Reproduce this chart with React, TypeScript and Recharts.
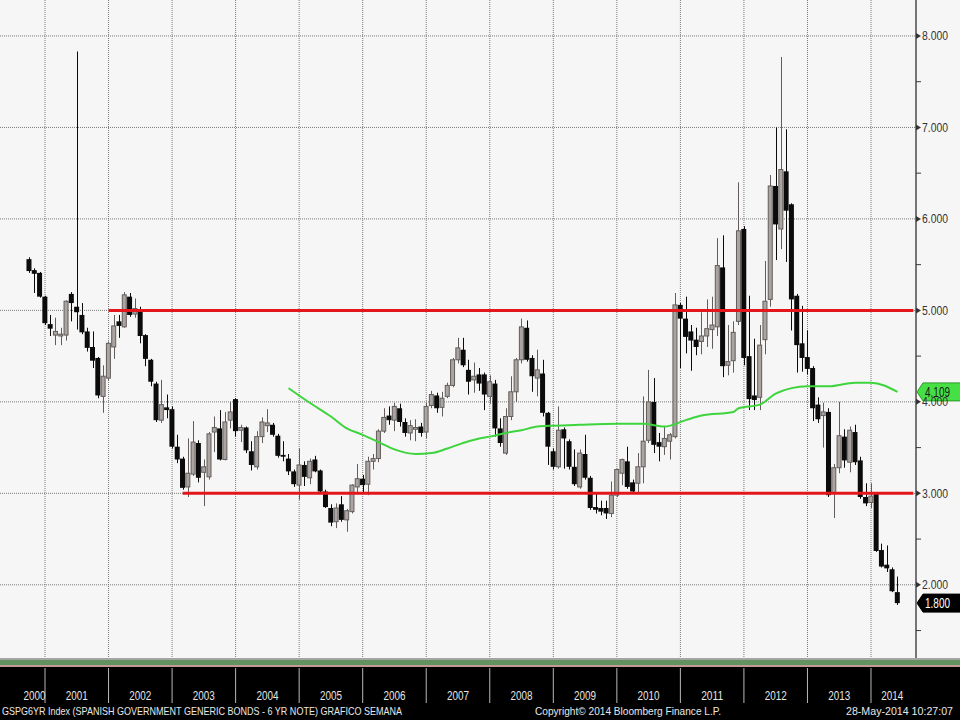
import { ComposedChart, Bar, Line, XAxis, YAxis, CartesianGrid, ReferenceLine } from 'recharts'

// monthly candles Sep 2000 .. May 2014, one line per year
const FIRST_CANDLE = '2000-09'

const OPEN = [
  5.56, 5.44, 5.41, 5.15,
  4.85, 4.73, 4.72, 4.73, 5.18, 5.04, 4.95, 4.77, 4.6, 4.48, 4.06, 4.26,
  4.6, 4.88, 4.82, 5.15, 4.96, 5.01, 4.73, 4.46, 4.2, 3.8, 3.94, 3.92,
  3.51, 3.38, 3.07, 3.21, 3.55, 3.23, 3.18, 3.67, 3.71, 3.37, 3.8, 4.03,
  3.69, 3.72, 3.46, 3.29, 3.62, 3.74, 3.75, 3.63, 3.42, 3.38, 3.24, 3.09,
  3.31, 3.17, 3.37, 3.25, 3.02, 2.84, 2.69, 2.88, 2.71, 2.8, 3.07, 3.16,
  3.1, 3.35, 3.38, 3.68, 3.85, 3.8, 3.93, 3.78, 3.66, 3.7, 3.73, 3.67,
  3.96, 4.07, 3.94, 4.06, 4.18, 4.46, 4.57, 4.35, 4.24, 4.3, 4.3, 4.06,
  4.2, 3.71, 3.44, 3.84, 4.11, 4.46, 4.81, 4.48, 4.26, 4.31, 3.88, 3.46,
  3.29, 3.7, 3.57, 3.29, 3.07, 3.43, 3.17, 2.85, 2.84, 2.84, 2.78, 2.98,
  3.22, 3.35, 3.12, 3.11, 3.29, 3.58, 4.0, 3.56, 3.51, 3.57, 3.62, 5.06,
  4.91, 4.77, 4.68, 4.66, 4.72, 4.79, 4.82, 5.47, 4.4, 4.45, 4.88, 5.89,
  4.5, 4.07, 4.05, 4.68, 5.12, 6.36, 5.89, 6.52, 6.16, 5.16, 4.64, 4.49,
  4.37, 3.97, 3.85, 3.89, 3.0, 3.28, 3.62, 3.34, 3.67, 3.36, 2.96, 2.9,
  3.0, 2.38, 2.22, 2.17, 1.92,
]

const HIGH = [
  5.58, 5.46, 5.42, 5.16,
  4.95, 4.92, 4.81, 5.11, 5.2, 7.83, 5.08, 4.81, 4.77, 4.49, 4.4, 4.66,
  4.95, 4.95, 5.2, 5.19, 5.13, 5.04, 4.74, 4.47, 4.22, 4.24, 4.08, 3.95,
  3.64, 3.4, 3.6, 3.79, 3.58, 3.37, 3.67, 3.84, 3.91, 3.89, 4.0, 4.04,
  3.75, 3.73, 3.57, 3.68, 3.83, 3.92, 3.77, 3.65, 3.57, 3.43, 3.26, 3.49,
  3.35, 3.38, 3.41, 3.26, 3.04, 2.88, 2.89, 2.97, 2.83, 3.1, 3.32, 3.2,
  3.4, 3.43, 3.7, 3.93, 3.95, 3.99, 3.98, 3.82, 3.8, 3.81, 3.77, 3.99,
  4.12, 4.1, 4.11, 4.21, 4.48, 4.7, 4.7, 4.46, 4.43, 4.37, 4.32, 4.29,
  4.24, 3.82, 3.93, 4.28, 4.48, 4.91, 4.89, 4.51, 4.57, 4.46, 3.89, 3.49,
  3.95, 3.72, 3.59, 3.48, 3.48, 3.64, 3.19, 3.0, 2.92, 2.92, 3.13, 3.27,
  3.38, 3.51, 3.15, 3.44, 4.06, 4.35, 4.26, 3.66, 3.73, 3.66, 5.19, 5.08,
  5.15, 4.84, 4.81, 4.98, 5.12, 5.15, 5.79, 5.82, 4.84, 4.88, 6.4, 5.92,
  5.16, 4.69, 4.84, 5.54, 6.48, 7.0, 7.77, 6.98, 6.17, 5.18, 5.05, 4.78,
  4.39, 4.05, 3.99, 3.93, 3.32, 4.0, 3.7, 3.73, 3.75, 3.4, 3.11, 3.11,
  3.01, 2.45, 2.43, 2.19, 2.09,
]

const LOW = [
  5.41, 5.19, 5.14, 4.84,
  4.72, 4.62, 4.62, 4.67, 4.88, 4.79, 4.74, 4.55, 4.37, 4.04, 3.88, 4.23,
  4.47, 4.7, 4.81, 4.93, 4.92, 4.64, 4.39, 4.17, 3.78, 3.77, 3.82, 3.49,
  3.33, 3.04, 2.96, 3.19, 3.12, 2.86, 3.15, 3.45, 3.36, 3.36, 3.71, 3.62,
  3.56, 3.44, 3.25, 3.26, 3.55, 3.67, 3.62, 3.39, 3.35, 3.2, 3.07, 2.93,
  3.08, 3.1, 3.23, 3.0, 2.84, 2.64, 2.62, 2.69, 2.58, 2.78, 2.99, 3.0,
  2.98, 3.26, 3.34, 3.66, 3.75, 3.68, 3.73, 3.62, 3.58, 3.57, 3.62, 3.6,
  3.93, 3.88, 3.84, 4.04, 4.16, 4.42, 4.38, 4.08, 4.1, 4.12, 3.91, 3.98,
  3.62, 3.51, 3.42, 3.8, 4.0, 4.42, 4.44, 4.11, 4.06, 3.84, 3.31, 3.26,
  3.27, 3.27, 3.26, 3.08, 3.05, 3.15, 2.82, 2.78, 2.76, 2.72, 2.74, 2.96,
  3.09, 3.05, 3.0, 3.0, 3.11, 3.55, 3.44, 3.35, 3.42, 3.37, 3.6, 4.37,
  4.53, 4.34, 4.51, 4.52, 4.6, 4.58, 4.72, 4.27, 4.29, 4.32, 4.84, 4.4,
  3.91, 3.91, 3.91, 4.52, 5.04, 5.55, 5.67, 5.53, 4.78, 4.32, 4.33, 4.3,
  3.79, 3.77, 3.5, 2.96, 2.73, 3.22, 3.28, 3.23, 3.31, 2.94, 2.86, 2.84,
  2.36, 2.19, 2.14, 1.92, 1.78,
]

const CLOSE = [
  5.43, 5.4, 5.15, 4.86,
  4.8, 4.77, 4.74, 5.1, 5.08, 4.98, 4.76, 4.59, 4.45, 4.07, 4.28, 4.64,
  4.83, 4.83, 5.17, 4.95, 5.02, 4.72, 4.47, 4.22, 3.8, 3.97, 3.91, 3.51,
  3.37, 3.06, 3.22, 3.56, 3.17, 3.29, 3.65, 3.72, 3.37, 3.78, 3.89, 3.68,
  3.72, 3.47, 3.31, 3.62, 3.78, 3.77, 3.64, 3.41, 3.4, 3.24, 3.1, 3.31,
  3.18, 3.35, 3.24, 3.02, 2.85, 2.68, 2.84, 2.71, 2.81, 3.09, 3.16, 3.09,
  3.35, 3.38, 3.68, 3.83, 3.8, 3.95, 3.78, 3.66, 3.74, 3.72, 3.66, 3.95,
  4.08, 3.93, 4.04, 4.18, 4.46, 4.59, 4.4, 4.22, 4.28, 4.2, 4.08, 4.22,
  3.71, 3.55, 3.84, 4.11, 4.46, 4.82, 4.46, 4.28, 4.35, 3.88, 3.51, 3.29,
  3.69, 3.6, 3.29, 3.1, 3.44, 3.17, 2.84, 2.82, 2.8, 2.78, 2.98, 3.26,
  3.37, 3.07, 3.02, 3.29, 3.57, 4.0, 3.53, 3.51, 3.6, 3.64, 5.06, 4.91,
  4.71, 4.67, 4.6, 4.72, 4.8, 4.84, 5.49, 4.39, 4.44, 4.76, 5.87, 4.48,
  4.03, 4.02, 4.62, 5.1, 6.36, 5.94, 6.54, 6.09, 5.12, 4.62, 4.48, 4.36,
  3.93, 3.81, 3.89, 2.98, 3.28, 3.63, 3.36, 3.69, 3.34, 2.96, 2.89, 2.97,
  2.37, 2.2, 2.18, 1.93, 1.8,
]

// green moving average, read at these months
const MA_MONTHS = [
  '2004-10', '2005-02', '2005-06', '2005-09', '2005-12', '2006-03', '2006-06', '2006-10',
  '2007-01', '2007-04', '2007-08', '2007-10', '2007-12', '2008-03', '2008-06', '2008-09',
  '2008-12', '2009-05', '2009-12', '2010-05', '2010-09', '2011-01', '2011-04', '2011-10',
  '2011-11', '2012-03', '2012-06', '2012-09', '2012-12', '2013-04', '2013-09', '2013-12',
  '2014-05',
]
const MA_VALUES = [
  4.15, 3.99, 3.84, 3.71, 3.64, 3.56, 3.48, 3.43,
  3.44, 3.49, 3.57, 3.6, 3.62, 3.66, 3.69, 3.73,
  3.74, 3.75, 3.76, 3.76, 3.73, 3.8, 3.85, 3.89,
  3.93, 3.97, 4.09, 4.15, 4.17, 4.17, 4.21, 4.21,
  4.109,
]

const RESISTANCE = 5
const RESISTANCE_FROM = '2001-12'
const SUPPORT = 3
const SUPPORT_FROM = '2003-02'

const Y_TICKS = [1.5, 2, 2.5, 3, 3.5, 4, 4.5, 5, 5.5, 6, 6.5, 7, 7.5, 8]
const Y_GRID = [2, 3, 4, 5, 6, 7, 8]

const YEAR_ENDS = [
  '2000-12', '2001-12', '2002-12', '2003-12', '2004-12', '2005-12', '2006-12',
  '2007-12', '2008-12', '2009-12', '2010-12', '2011-12', '2012-12', '2013-12',
]
const YEARS = [
  '2000', '2001', '2002', '2003', '2004', '2005', '2006', '2007',
  '2008', '2009', '2010', '2011', '2012', '2013', '2014',
]
const YEAR_LABEL_SLOTS = [
  '2000-10', '2001-06', '2002-06', '2003-06', '2004-06', '2005-06', '2006-06', '2007-06',
  '2008-06', '2009-06', '2010-06', '2011-06', '2012-06', '2013-06', '2014-04',
]

const TITLE = 'GSPG6YR Index (SPANISH GOVERNMENT GENERIC BONDS - 6 YR NOTE) GRAFICO SEMANA'
const COPYRIGHT = 'Copyright\u00a9 2014 Bloomberg Finance L.P.'
const STAMP = '28-May-2014 10:27:07'

// axis runs from Apr 2000 to Aug 2014
const AXIS_FIRST = [2000, 4]
const AXIS_LAST = [2014, 8]

const FONT = "'Liberation Sans Narrow', 'Arial Narrow', 'Liberation Sans', Arial, sans-serif"
const DOWN = '#0b0b0b'
const UP_FILL = '#aaa5a2'
const UP_LINE = '#625d5a'
const RED = '#e3161c'
const GREEN = '#3dd43d'

function monthKeys() {
  const keys: string[] = []
  let [y, m] = AXIS_FIRST
  while (y < AXIS_LAST[0] || (y === AXIS_LAST[0] && m <= AXIS_LAST[1])) {
    keys.push(`${y}-${String(m).padStart(2, '0')}`)
    m++
    if (m > 12) {
      m = 1
      y++
    }
  }
  return keys
}

const MONTHS = monthKeys()
const firstIdx = MONTHS.indexOf(FIRST_CANDLE)

const rows = MONTHS.map((month, i) => {
  const k = i - firstIdx
  const has = k >= 0 && k < OPEN.length
  const mi = MA_MONTHS.indexOf(month)
  return {
    month,
    open: has ? OPEN[k] : null,
    high: has ? HIGH[k] : null,
    low: has ? LOW[k] : null,
    close: has ? CLOSE[k] : null,
    range: has ? [LOW[k], HIGH[k]] : null,
    ma: mi >= 0 ? MA_VALUES[mi] : null,
  }
})

const LABEL_BY_SLOT: Record<string, string> = {}
YEAR_LABEL_SLOTS.forEach((s, i) => {
  LABEL_BY_SLOT[s] = YEARS[i]
})
const X_TICKS = [...YEAR_ENDS, ...YEAR_LABEL_SLOTS]

const lastMA = MA_VALUES[MA_VALUES.length - 1]
const lastClose = CLOSE[CLOSE.length - 1]

// eslint-disable-next-line @typescript-eslint/no-explicit-any
function Candle(props: any) {
  const { x, y, width, height, payload } = props
  if (!payload || payload.open == null || height == null) return <g />
  const { open, close, high, low } = payload
  const span = high - low || 1
  const py = (v: number) => y + ((high - v) / span) * height
  const cx = Math.round(x + width / 2) + 0.5
  const up = close >= open
  const top = py(Math.max(open, close))
  const bot = py(Math.min(open, close))
  const bodyH = Math.max(bot - top, 1.5)
  return (
    <g>
      <line x1={cx} x2={cx} y1={y} y2={y + height} stroke={up ? UP_LINE : DOWN} strokeWidth={1} />
      {up ? (
        <rect x={x + 0.5} y={top} width={width - 1} height={bodyH} fill={UP_FILL} stroke={UP_LINE} strokeWidth={1} />
      ) : (
        <rect x={x} y={top} width={width} height={bodyH} fill={DOWN} />
      )}
    </g>
  )
}

// eslint-disable-next-line @typescript-eslint/no-explicit-any
function XTick(props: any) {
  const { x, y, payload } = props
  const label = LABEL_BY_SLOT[payload.value]
  if (label) {
    return (
      <text x={x} y={y + 42} textAnchor="middle" fill="#e6e6e6" fontSize={13} fontFamily={FONT}
        textLength={22} lengthAdjust="spacingAndGlyphs">
        {label}
      </text>
    )
  }
  return <line x1={x} x2={x} y1={y + 10} y2={y + 45} stroke="#b8b8b8" strokeWidth={1} />
}

// eslint-disable-next-line @typescript-eslint/no-explicit-any
function YTick(props: any) {
  const { x, y, payload } = props
  const v = payload.value
  if (v % 1 !== 0) {
    return <line x1={x} x2={x + 5} y1={y} y2={y} stroke="#3a3a3a" strokeWidth={1} />
  }
  return (
    <g>
      <polygon points={`${x},${y - 3} ${x + 5},${y} ${x},${y + 3}`} fill="#333" />
      <text x={x + 6} y={y + 4.5} fill="#333" fontSize={13} fontFamily={FONT}
        textLength={26} lengthAdjust="spacingAndGlyphs">
        {v.toFixed(3)}
      </text>
    </g>
  )
}

function badge(text: string, fill: string, edge: string, color: string) {
  // eslint-disable-next-line @typescript-eslint/no-explicit-any
  return (p: any) => {
    const vb = p.viewBox || {}
    const x = (vb.x ?? 0) + (vb.width ?? 0) + 1
    const y = vb.y ?? 0
    return (
      <g>
        <polygon
          points={`${x},${y} ${x + 6},${y - 9} ${x + 44},${y - 9} ${x + 44},${y + 9} ${x + 6},${y + 9}`}
          fill={fill} stroke={edge} strokeWidth={1} />
        <text x={x + 8} y={y + 5} fill={color} fontSize={14} fontFamily={FONT}
          textLength={25} lengthAdjust="spacingAndGlyphs">
          {text}
        </text>
      </g>
    )
  }
}

const BG =
  'linear-gradient(to bottom, #f7f6f6 0px, #f7f6f6 658px, #a5a5a5 658px, #a5a5a5 660px, ' +
  '#62935f 660px, #62935f 665px, #c49a98 665px, #c49a98 667px, #000 667px, #000 720px)'

export default function App() {
  return (
    <div style={{ position: 'absolute', left: 0, top: 0, width: 960, height: 720, background: BG }}>
      <ComposedChart width={960} height={720} data={rows} margin={{ top: 0, right: 0, bottom: 0, left: 0 }}>
        <CartesianGrid
          stroke="#7a7a7a"
          strokeDasharray="1 1"
          horizontalValues={Y_GRID}
          verticalValues={YEAR_ENDS}
        />
        <XAxis
          dataKey="month"
          type="category"
          height={62}
          ticks={X_TICKS}
          interval={0}
          tick={<XTick />}
          tickLine={false}
          axisLine={false}
          tickSize={0}
          tickMargin={0}
        />
        <YAxis
          orientation="right"
          width={44}
          type="number"
          domain={[1.2, 8.393]}
          allowDataOverflow
          ticks={Y_TICKS}
          interval={0}
          tick={<YTick />}
          tickLine={false}
          tickSize={0}
          tickMargin={0}
          axisLine={{ stroke: '#4a4a4a', strokeWidth: 1.5 }}
        />
        <Bar dataKey="range" barSize={5} shape={(p: unknown) => <Candle {...(p as object)} />} isAnimationActive={false} />
        <ReferenceLine
          segment={[{ x: RESISTANCE_FROM, y: RESISTANCE }, { x: MONTHS[MONTHS.length - 1], y: RESISTANCE }]}
          stroke={RED}
          strokeWidth={3}
        />
        <ReferenceLine
          segment={[{ x: SUPPORT_FROM, y: SUPPORT }, { x: MONTHS[MONTHS.length - 1], y: SUPPORT }]}
          stroke={RED}
          strokeWidth={3}
        />
        <Line
          type="monotone"
          dataKey="ma"
          stroke={GREEN}
          strokeWidth={2}
          dot={false}
          connectNulls
          isAnimationActive={false}
        />
        <ReferenceLine y={lastMA} stroke="none" label={badge(lastMA.toFixed(3), '#46e046', '#2a9a2a', '#1a1a1a')} />
        <ReferenceLine y={lastClose} stroke="none" label={badge(lastClose.toFixed(3), '#000', '#000', '#fff')} />
      </ComposedChart>
      <svg width={960} height={720} style={{ position: 'absolute', left: 0, top: 0, pointerEvents: 'none' }}>
        <text x={2} y={715} fill="#e8e8e8" fontSize={11} fontFamily={FONT} textLength={400} lengthAdjust="spacingAndGlyphs">
          {TITLE}
        </text>
        <text x={535} y={715} fill="#e8e8e8" fontSize={11} fontFamily={FONT} textLength={186} lengthAdjust="spacingAndGlyphs">
          {COPYRIGHT}
        </text>
        <text x={846} y={715} fill="#e8e8e8" fontSize={10} fontFamily={FONT} textLength={107} lengthAdjust="spacingAndGlyphs">
          {STAMP}
        </text>
      </svg>
    </div>
  )
}
